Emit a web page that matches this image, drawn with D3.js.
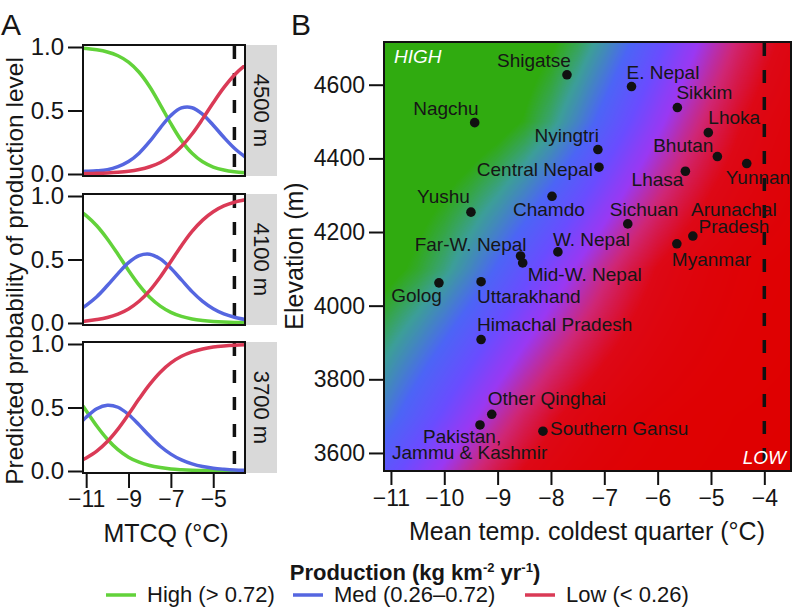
<!DOCTYPE html>
<html>
<head>
<meta charset="utf-8">
<script src="https://cdn.jsdelivr.net/npm/d3@7"></script>
<style>
body { margin: 0; background: #fff; }
svg text { font-family: "Liberation Sans", Arial, Helvetica, sans-serif; fill: #161616; }
</style>
</head>
<body>
<script>
// MTCQ grid (°C) shared by the curves in A and the background map in B
var mtcq = [-11.15, -11, -10.5, -10, -9.5, -9, -8.5, -8, -7.5, -7, -6.5, -6, -5.5, -5, -4.5, -4, -3.5];

// predicted probabilities
var high4500 = [0.990, 0.988, 0.978, 0.961, 0.931, 0.881, 0.801, 0.687, 0.545, 0.396, 0.263, 0.163, 0.096, 0.055, 0.031, 0.017, 0.009];
var med4500  = [0.020, 0.021, 0.025, 0.034, 0.058, 0.098, 0.164, 0.256, 0.364, 0.461, 0.520, 0.522, 0.470, 0.384, 0.289, 0.203, 0.136];
var low4500  = [0.002, 0.003, 0.005, 0.008, 0.013, 0.021, 0.035, 0.057, 0.091, 0.143, 0.217, 0.315, 0.434, 0.561, 0.680, 0.780, 0.855];

var high4100 = [0.864, 0.845, 0.766, 0.662, 0.541, 0.414, 0.298, 0.203, 0.133, 0.084, 0.052, 0.032, 0.020, 0.012, 0.007, 0.004, 0.003];
var med4100  = [0.122, 0.139, 0.207, 0.295, 0.389, 0.475, 0.531, 0.542, 0.505, 0.431, 0.339, 0.247, 0.170, 0.112, 0.071, 0.045, 0.027];
var low4100  = [0.014, 0.016, 0.027, 0.043, 0.070, 0.111, 0.171, 0.255, 0.362, 0.485, 0.609, 0.721, 0.810, 0.876, 0.922, 0.951, 0.970];

var high3700 = [0.512, 0.475, 0.354, 0.250, 0.168, 0.109, 0.069, 0.043, 0.027, 0.016, 0.010, 0.006, 0.004, 0.002, 0.001, 0.001, 0.001];
var med3700  = [0.399, 0.423, 0.490, 0.518, 0.502, 0.445, 0.363, 0.275, 0.195, 0.133, 0.087, 0.056, 0.035, 0.022, 0.014, 0.008, 0.005];
var low3700  = [0.089, 0.102, 0.156, 0.232, 0.330, 0.446, 0.568, 0.682, 0.778, 0.851, 0.903, 0.938, 0.961, 0.976, 0.985, 0.991, 0.994];

var high4716 = [0.996, 0.995, 0.991, 0.983, 0.969, 0.945, 0.904, 0.837, 0.737, 0.604, 0.455, 0.313, 0.199, 0.120, 0.069, 0.039, 0.022];
var low4716  = [0.001, 0.002, 0.003, 0.004, 0.007, 0.012, 0.019, 0.031, 0.051, 0.083, 0.130, 0.200, 0.294, 0.409, 0.536, 0.658, 0.762];
var high3551 = [0.332, 0.299, 0.206, 0.136, 0.087, 0.055, 0.034, 0.021, 0.013, 0.008, 0.005, 0.003, 0.002, 0.001, 0.001, 0.000, 0.000];
var low3551  = [0.163, 0.184, 0.269, 0.375, 0.495, 0.615, 0.723, 0.810, 0.874, 0.919, 0.949, 0.968, 0.980, 0.988, 0.992, 0.995, 0.997];

// sites in B
var siteNames = ["Shigatse", "E. Nepal", "Sikkim", "Lhoka", "Bhutan", "Yunnan", "Lhasa", "Nyingtri",
  "Central Nepal", "Chamdo", "Sichuan", "Arunachal Pradesh", "Myanmar", "W. Nepal", "Far-W. Nepal",
  "Mid-W. Nepal", "Nagchu", "Yushu", "Golog", "Uttarakhand", "Himachal Pradesh", "Other Qinghai",
  "Pakistan, Jammu & Kashmir", "Southern Gansu"];
var siteMtcq = [-7.70, -6.49, -5.63, -5.05, -4.88, -4.33, -5.48, -7.12, -7.10, -7.98, -6.56, -5.34,
  -5.64, -7.87, -8.57, -8.53, -9.43, -9.50, -10.10, -9.31, -9.31, -9.11, -9.33, -8.15];
var siteElev = [4627, 4595, 4538, 4470, 4405, 4386, 4365, 4424, 4376, 4297, 4222, 4189,
  4168, 4146, 4135, 4116, 4497, 4254, 4062, 4065, 3908, 3705, 3676, 3659];

var elevPanels = [4500, 4100, 3700];
var yTicksA = [0, 0.5, 1];
var xTicksA = [-11, -9, -7, -5];
var xTicksB = [-11, -10, -9, -8, -7, -6, -5, -4];
var yTicksB = [3600, 3800, 4000, 4200, 4400, 4600];
var threshold = -4;

var classNames = ["High", "Med", "Low"];
var classRanges = ["(> 0.72)", "(0.26\u20130.72)", "(< 0.26)"];
var classColors = ["#62d23a", "#5566e0", "#da3a56"];

// label placement for the site names (layout only)
var labelPos = {
  "Shigatse": {dx: 4, dy: -8, a: "end"},
  "E. Nepal": {dx: -5, dy: -8, a: "start"},
  "Sikkim": {dx: -1, dy: -9, a: "start"},
  "Lhoka": {dx: 0, dy: -9, a: "start"},
  "Bhutan": {dx: -4, dy: -5, a: "end"},
  "Yunnan": {dx: -21, dy: 20, a: "start"},
  "Lhasa": {dx: -2, dy: 15, a: "end"},
  "Nyingtri": {dx: 1, dy: -8, a: "end"},
  "Central Nepal": {dx: -6, dy: 9, a: "end"},
  "Chamdo": {dx: -39, dy: 20, a: "start"},
  "Sichuan": {dx: -18, dy: -8, a: "start"},
  "Arunachal Pradesh": {lines: ["Arunachal", "Pradesh"], dx: [41, 41], dy: [-20, -3], a: "middle"},
  "Myanmar": {dx: -5, dy: 22, a: "start"},
  "W. Nepal": {dx: -5, dy: -6, a: "start"},
  "Far-W. Nepal": {dx: 6, dy: -5, a: "end"},
  "Mid-W. Nepal": {dx: 5, dy: 18, a: "start"},
  "Nagchu": {dx: 4, dy: -8, a: "end"},
  "Yushu": {dx: -1, dy: -9, a: "end"},
  "Golog": {dx: 3, dy: 19, a: "end"},
  "Uttarakhand": {dx: -4, dy: 21, a: "start"},
  "Himachal Pradesh": {dx: -4, dy: -9, a: "start"},
  "Other Qinghai": {dx: -4, dy: -9, a: "start"},
  "Pakistan, Jammu & Kashmir": {lines: ["Pakistan,", "Jammu & Kashmir"], dx: [-57, -88], dy: [18, 34], a: "start"},
  "Southern Gansu": {dx: 7, dy: 4, a: "start"}
};

var svg = d3.select("body").append("svg")
  .attr("width", 793)
  .attr("height", 614);

// ---------------- panel A ----------------
var boxA = {left: 83, right: 245, tops: [45, 194, 342], h: 131};
var xA = d3.scaleLinear().domain([-11.15, -3.5]).range([boxA.left, boxA.right]);

var panelData = [
  [high4500, med4500, low4500],
  [high4100, med4100, low4100],
  [high3700, med3700, low3700]
];

svg.append("text").attr("x", 1).attr("y", 35).style("font-size", "30px").text("A");

elevPanels.forEach(function(elev, k) {
  var top = boxA.tops[k];
  var yA = d3.scaleLinear().domain([0, 1]).range([top + boxA.h - 2, top + 2]);
  var g = svg.append("g");

  g.append("rect")
    .attr("x", boxA.right + 1).attr("y", top)
    .attr("width", 31).attr("height", boxA.h)
    .attr("fill", "#d9d9d9");
  g.append("text")
    .attr("transform", "translate(" + (boxA.right + 17) + "," + (top + boxA.h / 2) + ") rotate(90)")
    .attr("text-anchor", "middle")
    .attr("dy", "0.35em")
    .style("font-size", "22px")
    .text(elev + " m");

  g.append("line")
    .attr("x1", xA(threshold)).attr("x2", xA(threshold))
    .attr("y1", top + 1).attr("y2", top + boxA.h)
    .attr("stroke", "#111").attr("stroke-width", 3.5)
    .attr("stroke-dasharray", "13,14");

  var line = d3.line()
    .x(function(d) { return xA(d[0]); })
    .y(function(d) { return yA(d[1]); })
    .curve(d3.curveCatmullRom.alpha(0.5));

  panelData[k].forEach(function(series, c) {
    g.append("path")
      .attr("d", line(mtcq.map(function(x, i) { return [x, series[i]]; })))
      .attr("fill", "none")
      .attr("stroke", classColors[c])
      .attr("stroke-width", 3.5);
  });

  g.append("rect")
    .attr("x", boxA.left).attr("y", top)
    .attr("width", boxA.right - boxA.left).attr("height", boxA.h)
    .attr("fill", "none").attr("stroke", "#111").attr("stroke-width", 2);

  var yAxis = g.append("g")
    .attr("transform", "translate(" + boxA.left + ",0)")
    .call(d3.axisLeft(yA).tickValues(yTicksA).tickFormat(d3.format(".1f")).tickSize(15).tickPadding(4));
  yAxis.select(".domain").remove();
  yAxis.selectAll("line").attr("stroke", "#111").attr("stroke-width", 2);
  yAxis.selectAll("text").style("font-size", "24px").attr("fill", "#161616");

  if (k === 2) {
    var xAxis = g.append("g")
      .attr("transform", "translate(0," + (top + boxA.h + 1) + ")")
      .call(d3.axisBottom(xA).tickValues(xTicksA).tickSize(14).tickPadding(3));
    xAxis.select(".domain").remove();
    xAxis.selectAll("line").attr("stroke", "#111").attr("stroke-width", 2);
    xAxis.selectAll("text").style("font-size", "23px").attr("fill", "#161616");
  }
});

svg.append("text")
  .attr("transform", "translate(23,271) rotate(-90)")
  .attr("text-anchor", "middle")
  .style("font-size", "24.5px")
  .text("Predicted probability of production level");

svg.append("text")
  .attr("x", 166).attr("y", 542)
  .attr("text-anchor", "middle")
  .style("font-size", "25px")
  .text("MTCQ (\u00B0C)");

// ---------------- panel B ----------------
var boxB = {left: 384, right: 791, top: 42, bottom: 471};
var xB = d3.scaleLinear().domain([-11.13, -3.5]).range([boxB.left, boxB.right]);
var yB = d3.scaleLinear().domain([3551, 4716]).range([boxB.bottom, boxB.top]);

svg.append("text").attr("x", 291).attr("y", 35).style("font-size", "30px").text("B");

// background: blend of class probabilities, rows are elevations
var mapElev = [3551, 3700, 4100, 4500, 4716];
var mapHigh = [high3551, high3700, high4100, high4500, high4716];
var mapLow = [low3551, low3700, low4100, low4500, low4716];

var shade = d3.scaleLinear()
  .domain([0, 0.22, 0.42, 0.68, 0.95, 1.2, 1.45, 1.68, 2])
  .range(["#30ab10", "#30ab10", "#3c9e98", "#4c64f6", "#6a4cff", "#9a38f2", "#cf2674", "#dd0816", "#df0000"])
  .clamp(true);
var lut = d3.range(401).map(function(i) { return d3.rgb(shade(i / 200)); });

function locate(arr, v) {
  var i = Math.max(0, Math.min(arr.length - 2, d3.bisectRight(arr, v) - 1));
  var f = Math.max(0, Math.min(1, (v - arr[i]) / (arr[i + 1] - arr[i])));
  return [i, f];
}
function sample(grid, xv, ev) {
  var cx = locate(mtcq, xv), cy = locate(mapElev, ev);
  var i = cx[0], fx = cx[1], j = cy[0], fy = cy[1];
  var a = grid[j][i] * (1 - fx) + grid[j][i + 1] * fx;
  var b = grid[j + 1][i] * (1 - fx) + grid[j + 1][i + 1] * fx;
  return a * (1 - fy) + b * fy;
}

var mw = boxB.right - boxB.left, mh = boxB.bottom - boxB.top;
var canvas = document.createElement("canvas");
canvas.width = mw; canvas.height = mh;
var ctx = canvas.getContext("2d");
var img = ctx.createImageData(mw, mh);
for (var py = 0; py < mh; py++) {
  var ev = yB.invert(boxB.top + py + 0.5);
  for (var px = 0; px < mw; px++) {
    var xv = xB.invert(boxB.left + px + 0.5);
    var ph = sample(mapHigh, xv, ev), pl = sample(mapLow, xv, ev);
    var t = (1 - ph - pl) + 2 * pl;
    var c = lut[Math.max(0, Math.min(400, Math.round(t * 200)))];
    var o = (py * mw + px) * 4;
    img.data[o] = c.r; img.data[o + 1] = c.g; img.data[o + 2] = c.b; img.data[o + 3] = 255;
  }
}
ctx.putImageData(img, 0, 0);

svg.append("image")
  .attr("x", boxB.left).attr("y", boxB.top)
  .attr("width", mw).attr("height", mh)
  .attr("preserveAspectRatio", "none")
  .attr("href", canvas.toDataURL());

svg.append("line")
  .attr("x1", xB(threshold)).attr("x2", xB(threshold))
  .attr("y1", boxB.top + 1).attr("y2", boxB.bottom)
  .attr("stroke", "#111").attr("stroke-width", 3.5)
  .attr("stroke-dasharray", "13,14");

svg.append("rect")
  .attr("x", boxB.left).attr("y", boxB.top)
  .attr("width", mw).attr("height", mh)
  .attr("fill", "none").attr("stroke", "#111").attr("stroke-width", 2);

svg.append("text")
  .attr("x", 394).attr("y", 63)
  .style("font-size", "19px").style("font-style", "italic").style("fill", "#fff")
  .text("HIGH");
svg.append("text")
  .attr("x", 786).attr("y", 464)
  .attr("text-anchor", "end")
  .style("font-size", "19px").style("font-style", "italic").style("fill", "#fff")
  .text("LOW");

var xAxisB = svg.append("g")
  .attr("transform", "translate(0," + (boxB.bottom + 1) + ")")
  .call(d3.axisBottom(xB).tickValues(xTicksB).tickSize(13).tickPadding(5));
xAxisB.select(".domain").remove();
xAxisB.selectAll("line").attr("stroke", "#111").attr("stroke-width", 2);
xAxisB.selectAll("text").style("font-size", "23px").attr("fill", "#161616");

var yAxisB = svg.append("g")
  .attr("transform", "translate(" + boxB.left + ",0)")
  .call(d3.axisLeft(yB).tickValues(yTicksB).tickFormat(d3.format("d")).tickSize(15).tickPadding(4));
yAxisB.select(".domain").remove();
yAxisB.selectAll("line").attr("stroke", "#111").attr("stroke-width", 2);
yAxisB.selectAll("text").style("font-size", "23px").attr("fill", "#161616");

var sites = siteNames.map(function(n, i) { return {name: n, x: siteMtcq[i], e: siteElev[i]}; });

svg.append("g").selectAll("circle")
  .data(sites)
  .enter()
  .append("circle")
  .attr("cx", function(d) { return xB(d.x); })
  .attr("cy", function(d) { return yB(d.e); })
  .attr("r", 4.8)
  .attr("fill", "#111");

var labels = svg.append("g").style("font-size", "19px");
sites.forEach(function(d) {
  var p = labelPos[d.name];
  var cx = xB(d.x), cy = yB(d.e);
  var lines = p.lines || [d.name];
  lines.forEach(function(s, i) {
    labels.append("text")
      .attr("x", cx + (p.lines ? p.dx[i] : p.dx))
      .attr("y", cy + (p.lines ? p.dy[i] : p.dy))
      .attr("text-anchor", p.a)
      .attr("fill", "#1a1020")
      .text(s);
  });
});

svg.append("text")
  .attr("transform", "translate(303,256) rotate(-90)")
  .attr("text-anchor", "middle")
  .style("font-size", "25px")
  .text("Elevation (m)");

svg.append("text")
  .attr("x", 587).attr("y", 540)
  .attr("text-anchor", "middle")
  .style("font-size", "25px")
  .text("Mean temp. coldest quarter (\u00B0C)");

// ---------------- legend ----------------
var title = svg.append("text")
  .attr("x", 415).attr("y", 580)
  .attr("text-anchor", "middle")
  .style("font-size", "22px").style("font-weight", "bold");
title.append("tspan").text("Production (kg km");
title.append("tspan").attr("dy", -8).style("font-size", "13px").text("-2");
title.append("tspan").attr("dy", 8).text(" yr");
title.append("tspan").attr("dy", -8).style("font-size", "13px").text("-1");
title.append("tspan").attr("dy", 8).text(")");

var legendX = [106, 293, 525];
classNames.forEach(function(n, i) {
  svg.append("line")
    .attr("x1", legendX[i]).attr("x2", legendX[i] + 30)
    .attr("y1", 595).attr("y2", 595)
    .attr("stroke", classColors[i]).attr("stroke-width", 3.5);
  svg.append("text")
    .attr("x", legendX[i] + 41).attr("y", 602)
    .style("font-size", "22px")
    .text(n + " " + classRanges[i]);
});
</script>
</body>
</html>
